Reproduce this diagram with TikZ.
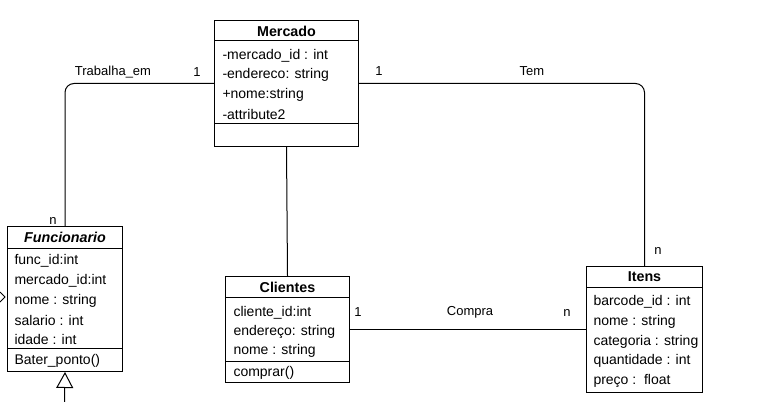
\documentclass[tikz,border=0pt]{standalone}
\usepackage{fontspec}
\setmainfont{Liberation Sans}
\usetikzlibrary{arrows.meta,calc}
\begin{document}
\begin{tikzpicture}[x=1pt,y=-1pt,line width=1pt,
  box/.style={draw, rectangle, anchor=north west, inner sep=0pt},
  title/.style={font=\fontsize{14.3}{16}\selectfont\bfseries, anchor=center, inner sep=0pt, yshift=-0.5pt},
  attr/.style={font=\fontsize{14}{16}\selectfont, anchor=west, inner sep=0pt, yshift=-1.8pt},
  lbl/.style={font=\fontsize{13}{15}\selectfont, inner sep=0pt, yshift=-1.5pt},
  conn/.style={draw, line width=1pt}]
\useasboundingbox (0,0) rectangle (783,401);
\fill[white] (0,0) rectangle (783,401);

% Mercado
\node[box, minimum width=144pt, minimum height=126pt] (merc) at (214,20) {};
\draw (merc.north west) ++(0,21) -- ++(144,0);
\draw (merc.north west) ++(0,103) -- ++(144,0);
\node[title] at ($(merc.north)+(0,10.5)$) {Mercado};
\node[attr] at ($(merc.north west)+(8,34)$) {-mercado\_id : int};
\node[attr] at ($(merc.north west)+(8,53.5)$) {-endereco: string};
\node[attr] at ($(merc.north west)+(8,73)$) {+nome:string};
\node[attr] at ($(merc.north west)+(8,92.5)$) {-attribute2};

% Funcionario
\node[box, minimum width=115pt, minimum height=145pt] (func) at (7,226) {};
\draw (func.north west) ++(0,22) -- ++(115,0);
\draw (func.north west) ++(0,122) -- ++(115,0);
\node[title, font=\fontsize{14.3}{16}\selectfont\bfseries\itshape] at ($(func.north)+(0,11)$) {Funcionario};
\node[attr] at ($(func.north west)+(7,33)$) {func\_id:int};
\node[attr] at ($(func.north west)+(7,53)$) {mercado\_id:int};
\node[attr] at ($(func.north west)+(7,73)$) {nome : string};
\node[attr] at ($(func.north west)+(7,93)$) {salario : int};
\node[attr] at ($(func.north west)+(7,112)$) {idade : int};
\node[attr] at ($(func.north west)+(7,133)$) {Bater\_ponto()};

% Clientes
\node[box, minimum width=124pt, minimum height=106pt] (cli) at (225,276) {};
\draw (cli.north west) ++(0,21) -- ++(124,0);
\draw (cli.north west) ++(0,85) -- ++(124,0);
\node[title] at ($(cli.north)+(0,10.5)$) {Clientes};
\node[attr] at ($(cli.north west)+(8,35)$) {cliente\_id:int};
\node[attr] at ($(cli.north west)+(8,54)$) {endereço: string};
\node[attr] at ($(cli.north west)+(8,73)$) {nome : string};
\node[attr] at ($(cli.north west)+(8,95)$) {comprar()};

% Itens
\node[box, minimum width=116pt, minimum height=126pt] (itens) at (586,266) {};
\draw (itens.north west) ++(0,21) -- ++(116,0);
\node[title] at ($(itens.north)+(0,10.5)$) {Itens};
\node[attr] at ($(itens.north west)+(7,34)$) {barcode\_id : int};
\node[attr] at ($(itens.north west)+(7,54)$) {nome : string};
\node[attr] at ($(itens.north west)+(7,74)$) {categoria : string};
\node[attr] at ($(itens.north west)+(7,93)$) {quantidade : int};
\node[attr] at ($(itens.north west)+(7,113)$) {preço :\ \ float};

% connectors
\draw[conn, rounded corners=9pt] (merc.west) -| (func.north);
\draw[conn, rounded corners=9pt] (merc.east) -| (itens.north);
\draw[conn] (merc.south) -- (cli.north);
\draw[conn] (cli.east) -- (itens.west);

% inheritance arrow below Funcionario
\coordinate (inhbot) at (64.5,403);
\draw[conn, -{Triangle[open, length=16pt, width=17pt]}] (inhbot) -- (func.south);

% partial arrow at left edge
\coordinate (lefttip) at (func.west |- 0,297);
\draw[line width=0.9pt] ($(lefttip)+(-7,-5)$) -- ($(lefttip)+(-2,0)$) -- ($(lefttip)+(-7,5)$);

% labels
\node[lbl] (l1) at (113,71) {Trabalha\_em};
\node[lbl] (l2) at (197,71) {1};
\node[lbl] (l3) at (53,220) {n};
\node[lbl] (l4) at (379,70) {1};
\node[lbl] (l5) at (532,70) {Tem};
\node[lbl] (l6) at (658,249) {n};
\node[lbl] (l7) at (358,311) {1};
\node[lbl] (l8) at (470,311) {Compra};
\node[lbl] (l9) at (567,311) {n};
\end{tikzpicture}
\end{document}
